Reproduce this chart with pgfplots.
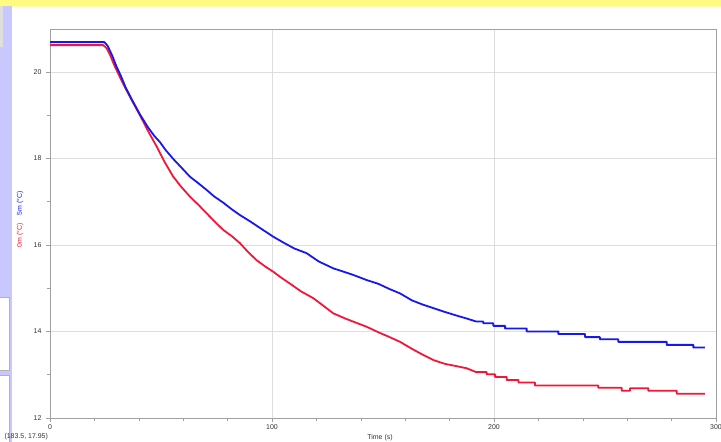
\documentclass[border=0pt]{standalone}
\usepackage{pgfplots}
\pgfplotsset{compat=1.18}
\usepackage{fontspec}
\setmainfont{Liberation Sans}
\definecolor{redline}{RGB}{242,22,58}
\definecolor{blueline}{RGB}{24,24,236}
\definecolor{yellowbar}{RGB}{255,250,130}
\definecolor{lav}{RGB}{200,200,255}
\definecolor{framegray}{RGB}{160,160,160}
\definecolor{gridgray}{RGB}{222,222,222}
\begin{document}
\begin{tikzpicture}
\useasboundingbox (0,0) rectangle (721bp,442bp);
\fill[white] (0,0) rectangle (721bp,442bp);
% screenshot chrome
\fill[yellowbar] (0,436bp) rectangle (721bp,442bp);
\draw[yellowbar!60!white, line width=0.8bp] (0,435.6bp) -- (721bp,435.6bp);
\fill[lav] (0,0) rectangle (12bp,436bp);
\fill[gray!25] (0,395bp) rectangle (3bp,436bp);
\draw[gray!60, fill=white] (-1bp,72bp) rectangle (9bp,145bp);
\draw[gray!60, fill=white] (-1bp,-2bp) rectangle (9bp,67bp);
\begin{axis}[
  at={(50bp,24bp)}, anchor=south west,
  scale only axis, width=666bp, height=388bp,
  xmin=0, xmax=300, ymin=12, ymax=20.97,
  xtick={0,100,200,300}, ytick={12,14,16,18,20},
  minor x tick num=4, minor y tick num=1,
  tick align=outside,
  major tick length=4bp, minor tick length=3bp,
  tick style={framegray, line width=0.6bp},
  xtick pos=bottom, ytick pos=left,
  grid=major,
  major grid style={gridgray, line width=0.7bp},
  axis line style={framegray, line width=1bp},
  tick label style={font=\fontsize{7}{8}\selectfont, text=black!80},
  /pgf/number format/assume math mode=true,
  xticklabel style={yshift=1bp},
  yticklabel style={xshift=-1bp},
  clip=false,
]
\addplot[redline, line width=1.8bp, line join=round] coordinates {
(0,20.62) (24,20.62) (25.5,20.55) (27,20.40) (29,20.15) (31.5,19.88) (34,19.62)
(37,19.33) (40.5,19.00) (44,18.65) (48,18.28) (51.5,17.93) (55.5,17.58) (59,17.35)
(63,17.12) (67,16.92) (70.6,16.73) (74,16.55) (78,16.35) (82,16.20) (85.6,16.04)
(89,15.85) (93,15.65) (97,15.50) (100.6,15.38) (104,15.25) (108,15.11) (113,14.93)
(118.6,14.77) (123,14.60) (127.6,14.42) (133,14.30) (137,14.22) (142.6,14.11)
(148,13.98) (153,13.87) (157.7,13.76) (163,13.60) (168,13.46) (172.7,13.34)
(178,13.25) (183,13.20) (187.7,13.15) (192,13.06)
(196.7,13.06) (196.7,13.01) (200.5,13.01) (200.5,12.95) (205.7,12.95) (205.7,12.88)
(211,12.88) (211,12.82) (218.5,12.82) (218.5,12.75) (247,12.75) (247,12.70)
(257.5,12.70) (257.5,12.63) (261.3,12.63) (261.3,12.69) (269.5,12.69) (269.5,12.63)
(282.3,12.63) (282.3,12.56) (295,12.56)
};
\addplot[blueline, line width=1.8bp, line join=round] coordinates {
(0,20.69) (24.5,20.69) (26,20.60) (28,20.38) (30,20.12) (32,19.90) (34,19.65)
(37,19.35) (40.5,19.02) (44,18.73) (47,18.52) (49.5,18.38) (52,18.20) (55.5,17.99)
(59,17.80) (63,17.58) (67,17.42) (70.6,17.27) (74,17.12) (78,16.98) (82,16.82)
(85.6,16.69) (90,16.55) (95,16.38) (100.6,16.19) (105,16.06) (110,15.92)
(115.6,15.81) (121,15.62) (127.6,15.46) (133,15.37) (137,15.30) (142.6,15.19)
(148,15.10) (153,14.98) (157.7,14.88) (163,14.72) (168,14.62) (172.7,14.54)
(178,14.45) (183,14.37) (187.7,14.30) (192,14.23)
(195.2,14.23) (195.2,14.19) (199.7,14.19) (199.7,14.13) (205,14.13) (205,14.07)
(214.7,14.07) (214.7,14.00) (229,14.00) (229,13.94) (241,13.94) (241,13.87)
(247.7,13.87) (247.7,13.82) (256,13.82) (256,13.76) (277.8,13.76) (277.8,13.69)
(289.8,13.69) (289.8,13.63) (295,13.63)
};
\end{axis}
% axis titles
\node[rotate=90, text=redline, font=\fontsize{7}{8}\selectfont] at (20bp,207bp) {0m (°C)};
\node[rotate=90, text=blueline, font=\fontsize{7}{8}\selectfont] at (20bp,239bp) {5m (°C)};
\node[font=\fontsize{7}{8}\selectfont, text=black!80, anchor=south, inner sep=0.5bp] at (380bp,0bp) {Time (s)};
\node[font=\fontsize{7}{8}\selectfont, text=black!80, anchor=west] at (1bp,5bp) {(183.5, 17.95)};
\end{tikzpicture}
\end{document}
